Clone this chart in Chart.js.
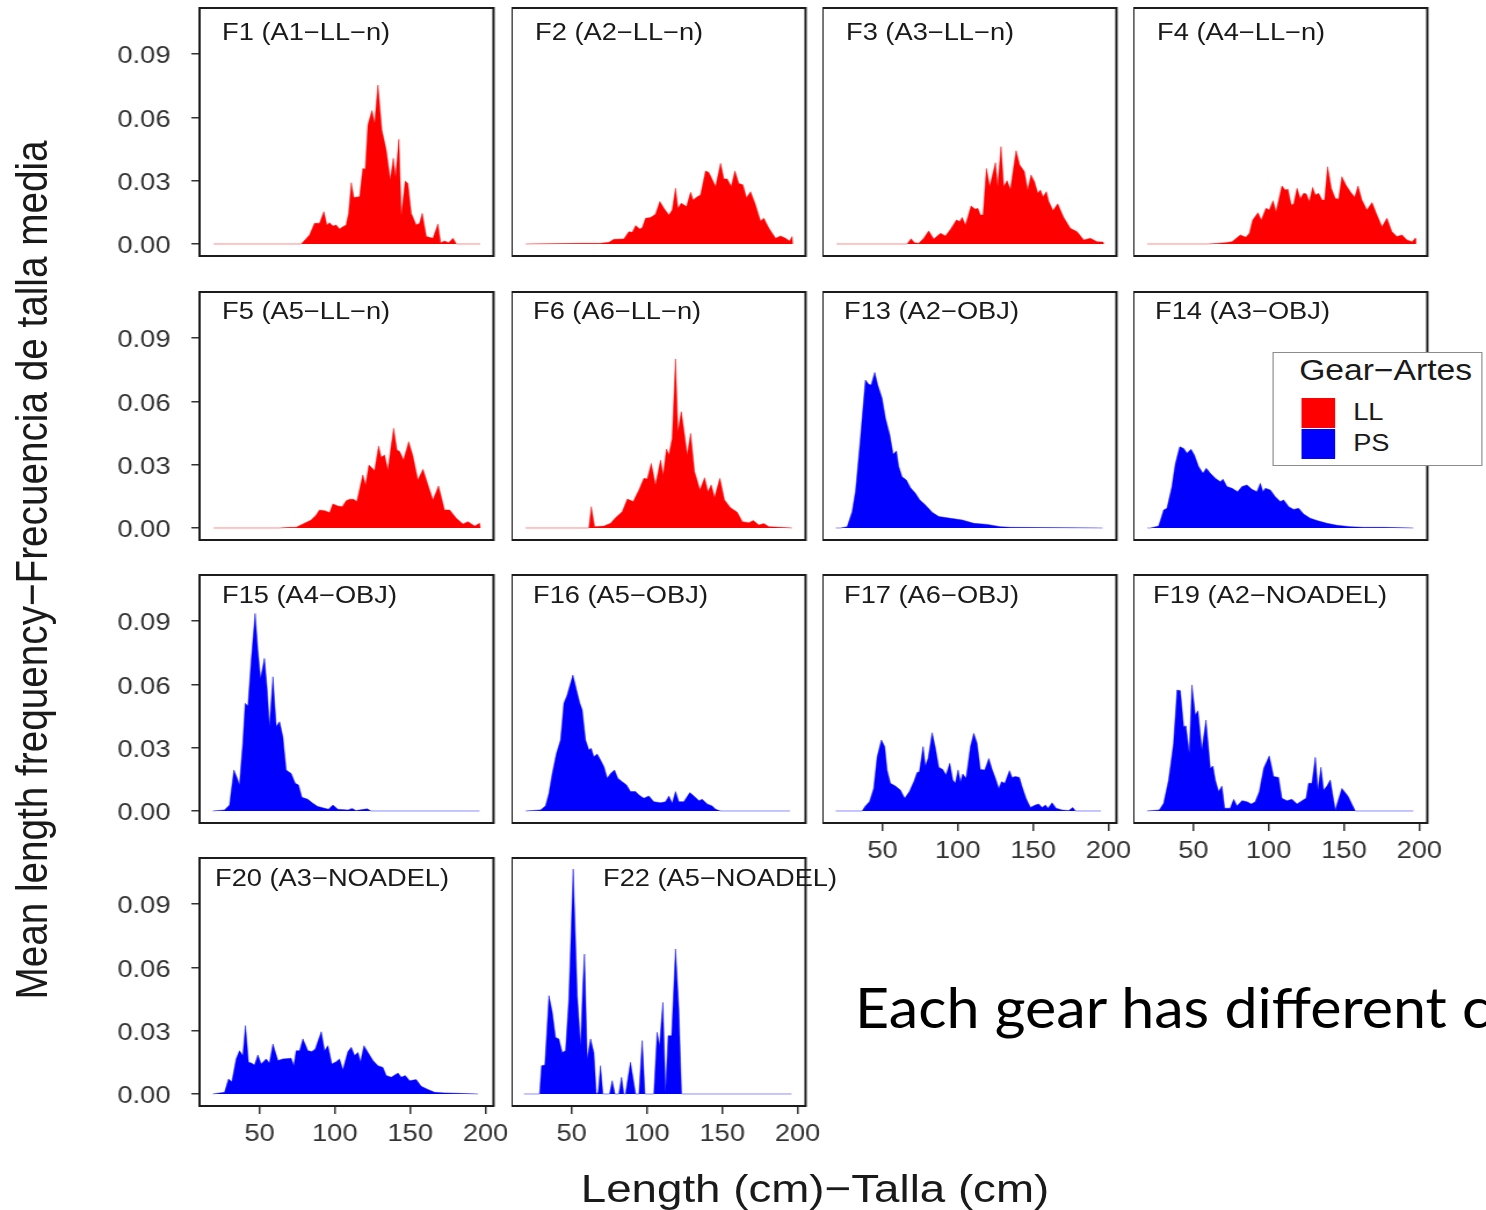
<!DOCTYPE html>
<html><head><meta charset="utf-8">
<script src="https://cdn.jsdelivr.net/npm/chart.js@4/dist/chart.umd.min.js"></script>
<style>
html,body{margin:0;padding:0;background:#fff;overflow:hidden;width:1486px;height:1210px;}
#fig{position:absolute;left:0;top:0;width:1281px;height:1210px;transform-origin:0 0;font-family:"Liberation Sans",Arial,sans-serif;}
.t{position:absolute;white-space:nowrap;line-height:1;color:#1a1a1a;}
canvas{position:absolute;}
#legend{position:absolute;background:#fff;border:1px solid #8c8c8c;box-sizing:border-box;}
#note{position:absolute;left:855px;white-space:nowrap;line-height:1;font-family:Lato,"Open Sans",sans-serif;font-size:56px;color:#000;transform-origin:0 0;}
</style></head>
<body>
<div id="fig"></div>
<div id="note"><span id="noteHead">Each gear has different </span>c</div>
<script>
// ---------------- data (length cm, mean frequency) ----------------
const f1 = [[19.5,0],[77.7,0],[83.2,0.0043],[86.5,0.0098],[89.8,0.0098],[92.7,0.0153],[94.7,0.009],[96.5,0.0101],[98.7,0.0085],[100.9,0.009],[103.1,0.0071],[105.3,0.0082],[107.5,0.009],[109.1,0.0145],[110.9,0.029],[112.6,0.022],[116.4,0.0224],[118.6,0.0358],[120.2,0.0354],[121.9,0.0564],[124.6,0.0632],[126.4,0.0572],[128.6,0.0753],[131.2,0.054],[134.1,0.0445],[136.8,0.0303],[138.8,0.0406],[140.3,0.0319],[142.5,0.0496],[144.1,0.0137],[146.7,0.0298],[148.5,0.0287],[150.7,0.0145],[154,0.009],[156.2,0.0098],[158,0.0145],[160.7,0.0035],[165.1,0.0027],[168.4,0.0095],[170.2,0.0006],[172.8,0.0014],[175.5,0.0006],[178.4,0.0027],[180.6,0],[196.5,0]];
const f2 = [[19.5,0],[56,0.0003],[69.2,0.0003],[74.8,0.0008],[78.1,0.0022],[84.7,0.0024],[88,0.0058],[90.3,0.0055],[92.5,0.0087],[95.3,0.0071],[96.9,0.0077],[99.1,0.0122],[102.4,0.0125],[105.7,0.0141],[108.6,0.0201],[111.3,0.0169],[114.6,0.0137],[116.8,0.0161],[119,0.0264],[120.6,0.0169],[122.8,0.0193],[126.3,0.0177],[129,0.0245],[130.7,0.0208],[133.4,0.0224],[135.6,0.0232],[138.9,0.0346],[141.1,0.0339],[145.6,0.0272],[148.9,0.0382],[151.1,0.0308],[153.3,0.0308],[156,0.0272],[158.4,0.0346],[161,0.0287],[163.7,0.028],[166.1,0.0219],[168.8,0.0248],[172.1,0.0185],[175.4,0.0109],[177.6,0.0122],[181,0.0074],[185.4,0.0027],[188.7,0.0038],[192,0.0027],[194.7,0.0014],[196.4,0.0035],[196.8,0]];
const f3 = [[19.5,0],[66.4,0],[69,0.0025],[71.2,0.0006],[74.1,0.0003],[77.4,0.0027],[80.7,0.0062],[84.1,0.0024],[88.5,0.0051],[91.8,0.0038],[95.1,0.0069],[99.1,0.0114],[101.3,0.0106],[102.9,0.0126],[105.1,0.009],[108.8,0.018],[111.7,0.0164],[113.3,0.0169],[115,0.0137],[116.8,0.0137],[119,0.0358],[121.2,0.0272],[125,0.0385],[126.5,0.0272],[128.7,0.0461],[130.5,0.0272],[132.7,0.03],[134.9,0.0259],[138.7,0.0442],[141.1,0.0374],[144.2,0.0343],[146.4,0.0256],[148.6,0.0327],[150.9,0.0295],[153.1,0.024],[154.8,0.0256],[156.6,0.0224],[158.8,0.0248],[160.4,0.0201],[163.2,0.0158],[166.3,0.019],[170.3,0.0126],[174.7,0.0074],[179.2,0.0058],[183.6,0.0019],[188,0.0027],[192.4,0.0011],[196.4,0.0009],[197,0]];
const f4 = [[19.5,0],[60,0],[71.2,0.0006],[75.7,0.0011],[81.2,0.0043],[84.9,0.0032],[87.2,0.0051],[89.4,0.0114],[92.9,0.0148],[95.1,0.0114],[98.2,0.0169],[100.4,0.0161],[102.9,0.0205],[104.9,0.0153],[108.8,0.0275],[111,0.0256],[112.8,0.0259],[115,0.0185],[116.6,0.0189],[118.8,0.0264],[121,0.0216],[123.2,0.024],[125,0.0237],[127,0.0201],[129.2,0.0268],[131,0.0232],[133.2,0.024],[135.4,0.0208],[137.1,0.0208],[139.1,0.0366],[141.6,0.0264],[144.2,0.0216],[146.4,0.0212],[148.6,0.0319],[151.3,0.0279],[154.2,0.0248],[157.1,0.0221],[159.3,0.0275],[161.9,0.0208],[165.2,0.0161],[168.6,0.0196],[171.9,0.0137],[175.2,0.0082],[178.5,0.0122],[181.8,0.0058],[185.1,0.0035],[188.5,0.0043],[191.8,0.0019],[195.1,0.0011],[197.3,0.0027],[197.6,0]];
const f5 = [[19.5,0],[63.3,0],[69.9,0.0003],[74.3,0.0003],[78.8,0.0019],[84.3,0.0038],[87.6,0.0062],[89.8,0.0085],[93.2,0.0082],[96.5,0.0073],[98.7,0.0114],[102,0.0104],[104.9,0.0101],[107.5,0.0129],[109.8,0.0136],[112.4,0.0136],[114.6,0.0125],[116.8,0.0196],[118.6,0.0251],[120.4,0.0204],[122.6,0.0298],[126.4,0.0272],[129,0.0388],[130.8,0.0335],[133,0.0346],[135.2,0.0275],[139,0.0472],[141.2,0.0369],[143,0.0362],[145.6,0.0322],[149,0.0409],[151.8,0.0341],[155.1,0.0227],[158.5,0.0278],[161.8,0.0204],[165.1,0.0133],[168.8,0.0199],[172.8,0.0085],[176.2,0.0085],[180.6,0.0046],[185,0.0019],[188.3,0.003],[192.8,0.0009],[196.1,0.0022],[196.5,0]];
const f6 = [[19.5,0],[61.5,0],[63.1,0.0101],[65.3,0.0006],[71.5,0.0009],[75.9,0.0022],[79.2,0.0049],[83.6,0.0077],[87,0.0137],[90.9,0.0125],[94.7,0.018],[98,0.0235],[100.2,0.0232],[102.9,0.0306],[105.7,0.0204],[109.1,0.0322],[110.8,0.0251],[113,0.0374],[114.6,0.0346],[116.8,0.0425],[119,0.0801],[120.6,0.0456],[122.8,0.0551],[125,0.0441],[126.8,0.0346],[129,0.0448],[131.6,0.0267],[135.2,0.018],[138.3,0.0238],[140.5,0.0172],[142.7,0.0204],[144.9,0.0144],[148.4,0.0235],[151.5,0.0133],[155.5,0.0096],[160,0.0074],[163.3,0.003],[167.7,0.0025],[170.6,0.0035],[174.3,0.0014],[177.6,0.0021],[181,0.0006],[188.7,0.0003],[196.4,0]];
const f13 = [[19,0],[22.1,0],[26.6,0.0006],[29.9,0.0077],[32.1,0.0172],[35,0.0393],[38.7,0.0701],[40.9,0.0681],[42.5,0.0677],[44.9,0.0737],[46.9,0.0677],[49.8,0.0614],[52,0.052],[54.9,0.0441],[57.1,0.0349],[59.3,0.0365],[60.8,0.0291],[63,0.0243],[65.9,0.0227],[68.6,0.0191],[71.9,0.0164],[74.8,0.0133],[78.5,0.0109],[83,0.0074],[87.4,0.0054],[95.1,0.0046],[102.9,0.0038],[110.6,0.0022],[119.5,0.0017],[128.3,0.0006],[135,0.0003],[196,0]];
const f14 = [[19.5,0],[21.5,0],[27,0.0009],[30.3,0.0085],[32.5,0.0093],[35.8,0.0196],[38.1,0.0306],[41,0.0385],[43.6,0.0377],[45.8,0.0354],[48.5,0.0373],[50.7,0.0346],[53.5,0.0291],[56.4,0.0259],[58.6,0.0283],[61.3,0.0259],[64.6,0.0235],[67.9,0.0219],[69.7,0.0231],[72.3,0.0196],[75.7,0.0188],[79.4,0.0172],[82.3,0.0196],[85.6,0.0204],[88.9,0.0183],[92.2,0.0172],[94.5,0.0212],[96.2,0.0172],[97.8,0.0188],[101.1,0.018],[104.4,0.0148],[107.7,0.0125],[110,0.0133],[113.3,0.0101],[116.6,0.0088],[119.9,0.0093],[123.2,0.0066],[127.6,0.0046],[132.1,0.0035],[138.7,0.0022],[145.3,0.0013],[154.2,0.0006],[163,0.0003],[176.3,0.0003],[196,0]];
const f15 = [[19,0],[26.8,0.0005],[30.1,0.0028],[33,0.0194],[35.2,0.0155],[36.7,0.0123],[38.9,0.0321],[40.5,0.051],[42.3,0.0497],[44.5,0.0715],[47.1,0.0936],[48.9,0.0763],[50.7,0.0628],[53.3,0.0723],[55.1,0.0573],[56.6,0.04],[58.9,0.0636],[61.1,0.04],[63.3,0.0423],[65.5,0.0352],[67.7,0.0194],[71,0.0178],[73.7,0.0131],[75.9,0.0123],[78.1,0.0065],[82.1,0.0055],[85.4,0.0036],[88.7,0.0021],[93.2,0.0013],[95.8,0.0008],[98.7,0.0028],[102,0.0008],[108.7,0.0005],[111.5,0.0012],[114,0.0002],[121.5,0.001],[124,0],[196,0]];
const f16 = [[19.5,0],[29.4,0.0005],[32.7,0.0024],[35,0.0084],[37.2,0.0178],[40,0.0273],[42.7,0.0336],[44.9,0.051],[47.1,0.055],[50.9,0.0644],[53.3,0.0573],[55.5,0.051],[57.1,0.0478],[59.3,0.0336],[61.5,0.0289],[63,0.0297],[64.8,0.0257],[67,0.027],[69.2,0.0242],[71.5,0.021],[73.7,0.0155],[75.9,0.0178],[78.5,0.0194],[80.7,0.0155],[83.6,0.0139],[86.5,0.0123],[89.1,0.0092],[92.5,0.0092],[94.7,0.0076],[98,0.006],[101.3,0.0071],[104.6,0.0044],[109.1,0.0039],[112.4,0.0044],[114.6,0.0071],[116.8,0.0036],[119,0.0092],[121.2,0.0044],[124.5,0.0044],[128.5,0.0087],[131.2,0.0071],[134.5,0.0049],[136.7,0.0055],[140,0.0033],[143.3,0.0024],[145.6,0.0008],[148.9,0],[195,0]];
const f17 = [[19,0],[36.5,0],[38.7,0.0024],[41.4,0.0044],[44.2,0.0107],[46.5,0.0257],[49.3,0.0336],[51.5,0.0305],[53.1,0.0194],[55.3,0.0131],[58.6,0.0118],[61.9,0.0099],[64.8,0.006],[67.9,0.0092],[70.8,0.0139],[73,0.0182],[74.5,0.0186],[77,0.0305],[78.5,0.0213],[80.3,0.0249],[83,0.0371],[85.2,0.0297],[87.4,0.0207],[90,0.0197],[92.2,0.0171],[94.7,0.0226],[96.7,0.0147],[98.4,0.0131],[100.2,0.0194],[101.8,0.0139],[103.3,0.0175],[105.5,0.0155],[108.4,0.0305],[110.6,0.0368],[112.8,0.0321],[115,0.0197],[117.9,0.0194],[120.6,0.0249],[122.8,0.0197],[125,0.0155],[127.2,0.0107],[129,0.0139],[131.2,0.0131],[134.3,0.0191],[136,0.0159],[138.3,0.0163],[140.9,0.0159],[142.7,0.0115],[145.3,0.006],[148.2,0.0017],[151.5,0.0028],[153.7,0.0033],[156,0.0017],[158.2,0.0028],[159.9,0.0013],[162.6,0.0039],[165.2,0.0013],[169.2,0.0005],[173.6,0.0002],[176.3,0.0016],[178.1,0],[195,0]];
const f19 = [[19.2,0],[27.4,0.0005],[30.3,0.0036],[33.6,0.0147],[36.9,0.0321],[39.2,0.0573],[41.4,0.057],[43.6,0.0399],[45.1,0.0403],[47.3,0.0273],[49.1,0.0597],[51.3,0.0455],[53.1,0.0475],[55.7,0.0289],[58.4,0.0431],[61.3,0.0202],[63,0.0213],[64.6,0.0147],[66.8,0.0092],[69,0.0118],[70.8,0.0013],[74.5,0.0013],[76.8,0.0055],[79,0.0024],[82.3,0.0049],[85.6,0.0044],[88.5,0.0033],[91.1,0.0044],[93.8,0.0092],[96.7,0.0202],[100.4,0.0261],[103.3,0.0163],[106.6,0.0159],[108.8,0.006],[112.1,0.0049],[115.5,0.0055],[118.8,0.0033],[122.1,0.0049],[124.8,0.006],[126.5,0.0131],[128.7,0.0131],[131,0.0254],[132.7,0.0099],[134.7,0.0207],[136.5,0.0099],[138.7,0.0118],[140.9,0.0147],[144.2,0.0005],[148.6,0.0107],[152.6,0.0071],[157.5,0],[196,0]];
const f20 = [[19,0],[26.8,0.0008],[29.4,0.0071],[31.6,0.0058],[34.5,0.0166],[36.7,0.0205],[38.9,0.0182],[40.7,0.0324],[42.7,0.015],[44.5,0.0147],[46.7,0.0137],[48.9,0.0185],[51.1,0.0142],[54.4,0.0166],[56.6,0.0147],[58.9,0.0237],[62.2,0.0158],[65.5,0.0166],[71,0.0169],[72.8,0.0134],[74.3,0.0205],[76.6,0.0205],[78.8,0.0261],[82.1,0.0205],[84.8,0.0201],[87,0.0213],[91,0.0295],[93.2,0.0205],[95.4,0.0229],[98,0.0142],[100.9,0.0153],[103.1,0.0166],[105.3,0.0115],[108.7,0.0201],[110.9,0.0221],[113.1,0.0182],[115.3,0.0197],[117.1,0.0153],[119.3,0.0229],[122,0.0197],[125.3,0.0158],[128.6,0.0134],[131.9,0.0126],[134.1,0.0087],[137.4,0.0079],[141.9,0.0099],[144.1,0.0079],[146.7,0.0087],[149.6,0.0063],[154,0.0068],[157.3,0.0036],[161.8,0.0021],[166.2,0.0008],[172.8,0.0005],[181.7,0.0003],[195,0]];
const f22 = [[18.4,0],[28.8,0],[30.1,0.0134],[32.3,0.0137],[35,0.0466],[37.2,0.0387],[39.4,0.0268],[41.6,0.0261],[43.8,0.0197],[46,0.0205],[48.2,0.045],[51.1,0.1066],[53.8,0.0466],[56,0.0229],[57.5,0.0513],[58.6,0.0663],[60.4,0.0166],[62.6,0.0261],[64.8,0.0197],[66.4,0],[67.7,0.0008],[69.2,0.0134],[70.8,0],[75.2,0],[77,0.0063],[78.8,0],[81.4,0],[83.2,0.0079],[84.7,0],[85.8,0],[89.1,0.015],[92.5,0],[94.7,0],[96.9,0.0253],[98.7,0],[104.6,0],[106.8,0.0292],[108.4,0.0229],[110.6,0.0434],[112.4,0.0008],[114.1,0.0276],[116.4,0.0276],[119,0.0687],[121.2,0.0403],[123,0],[196,0]];

const panelTitles = ['F1 (A1\u2212LL\u2212n)','F2 (A2\u2212LL\u2212n)','F3 (A3\u2212LL\u2212n)','F4 (A4\u2212LL\u2212n)',
  'F5 (A5\u2212LL\u2212n)','F6 (A6\u2212LL\u2212n)','F13 (A2\u2212OBJ)','F14 (A3\u2212OBJ)',
  'F15 (A4\u2212OBJ)','F16 (A5\u2212OBJ)','F17 (A6\u2212OBJ)','F19 (A2\u2212NOADEL)',
  'F20 (A3\u2212NOADEL)','F22 (A5\u2212NOADEL)'];
const panelGear = ['LL','LL','LL','LL','LL','LL','PS','PS','PS','PS','PS','PS','PS','PS'];
const panelSeries = [f1,f2,f3,f4,f5,f6,f13,f14,f15,f16,f17,f19,f20,f22];
const gearNames = ['LL','PS'];
const legendTitle = 'Gear\u2212Artes';
const xTicks = [50,100,150,200];
const yTicks = [0,0.03,0.06,0.09];
const xAxisTitle = 'Length (cm)\u2212Talla (cm)';
const yAxisTitle = 'Mean length frequency\u2212Frecuencia de talla media';

// ---------------- layout & style ----------------
const K = 1.16;                       // horizontal stretch of the figure
const COL_X = [200,511,822,1133];
const ROW_Y = [8,292,575,858];
const TITLE_Y = [33,312,596,879];     // vertical centre of panel titles
const BOX_W = 294, BOX_H = 248;
const X_MIN = 10.2, X_MAX = 205.3, Y_MIN = -0.0057, Y_MAX = 0.1118;
const gearColor = {LL:'#ff0000', PS:'#0000ff'};
const gearEdge = {LL:'rgba(255,0,0,0.45)', PS:'rgba(0,0,255,0.45)'};
const panelPos = [
 {c:0,r:0,dx:22},{c:1,r:0,dx:24},{c:2,r:0,dx:24},{c:3,r:0,dx:24},
 {c:0,r:1,dx:22},{c:1,r:1,dx:22},{c:2,r:1,dx:22},{c:3,r:1,dx:22},
 {c:0,r:2,dx:22},{c:1,r:2,dx:22},{c:2,r:2,dx:22,bx:true},{c:3,r:2,dx:20,bx:true},
 {c:0,r:3,dx:15,bx:true},{c:1,r:3,dx:92,bx:true}
];
const TICK_FONT = {family:'Liberation Sans', size:23.5};
const TICK_COLOR = '#333333';

const fig = document.getElementById('fig');
fig.style.transform = 'scaleX(' + K + ')';

function addText(txt, left, top, size, extra) {
  const d = document.createElement('div');
  d.className = 't';
  d.textContent = txt;
  d.style.left = left + 'px';
  d.style.top = top + 'px';
  d.style.fontSize = size + 'px';
  if (extra) Object.assign(d.style, extra);
  fig.appendChild(d);
  return d;
}

const framePlugin = {
  id: 'frame',
  afterDatasetsDraw(chart) {
    const {ctx, chartArea: a} = chart;
    ctx.save();
    ctx.strokeStyle = '#1c1c1c';
    ctx.lineWidth = 2;
    ctx.strokeRect(a.left, a.top, a.right - a.left, a.bottom - a.top);
    ctx.restore();
  }
};

const PAD_T = 40, PAD_R = 30, PAD_B0 = 40, AX_H = 45, AX_W = 110;

panelSeries.forEach((series, i) => {
  const pos = panelPos[i];
  const showY = pos.c === 0;
  const showX = !!pos.bx;
  const boxL = COL_X[pos.c] / K, boxT = ROW_Y[pos.r], boxW = BOX_W / K;
  const padL = showY ? AX_W : 0;
  const axH = showX ? AX_H : 0;
  const padB = showX ? 0 : PAD_B0;
  const cv = document.createElement('canvas');
  const cw = Math.ceil(padL + boxW + PAD_R);
  const ch = PAD_T + BOX_H + axH + padB;
  cv.width = cw; cv.height = ch;
  cv.style.left = (boxL - padL) + 'px';
  cv.style.top = (boxT - PAD_T) + 'px';
  cv.style.width = cw + 'px'; cv.style.height = ch + 'px';
  fig.appendChild(cv);
  const gear = panelGear[i];
  new Chart(cv, {
    type: 'line',
    data: {datasets: [{
      data: series.map(([x, y]) => ({x, y})),
      borderColor: gearEdge[gear], borderWidth: 1,
      backgroundColor: gearColor[gear], fill: 'origin',
      pointRadius: 0, tension: 0
    }]},
    options: {
      responsive: false, animation: false, devicePixelRatio: 1, events: [],
      layout: {padding: {left: 0, top: PAD_T, right: cw - padL - boxW, bottom: padB}},
      plugins: {legend: {display: false}, tooltip: {enabled: false}},
      scales: {
        x: {
          type: 'linear', min: X_MIN, max: X_MAX, display: showX,
          afterBuildTicks: s => { s.ticks = xTicks.map(v => ({value: v})); },
          afterFit: s => { s.height = axH; },
          ticks: {font: TICK_FONT, color: TICK_COLOR, padding: 6, maxRotation: 0, autoSkip: false},
          grid: {drawOnChartArea: false, drawTicks: true, tickLength: 8, color: TICK_COLOR, lineWidth: 1.5},
          border: {display: false}
        },
        y: {
          type: 'linear', min: Y_MIN, max: Y_MAX, display: showY,
          afterBuildTicks: s => { s.ticks = yTicks.map(v => ({value: v})); },
          afterFit: s => { s.width = padL; },
          ticks: {font: TICK_FONT, color: TICK_COLOR, padding: 18, labelOffset: 3, callback: v => Number(v).toFixed(2)},
          grid: {drawOnChartArea: false, drawTicks: true, tickLength: 7, color: TICK_COLOR, lineWidth: 1.5},
          border: {display: false}
        }
      }
    },
    plugins: [framePlugin]
  });
  addText(panelTitles[i], (COL_X[pos.c] + pos.dx) / K, TITLE_Y[pos.r] - 0.49 * 23.5, 23.5);
});

// axis titles
addText(yAxisTitle, 33 / K, 570, 38.7, {transform: 'translate(-50%,-50%) rotate(-90deg)'});
addText(xAxisTitle, 815 / K, 1188 - 0.49 * 39.4, 39.4, {transform: 'translateX(-50%)'});

// legend
const lg = document.createElement('div');
lg.id = 'legend';
lg.style.left = (1272 / K) + 'px'; lg.style.top = '352px';
lg.style.width = (211 / K) + 'px'; lg.style.height = '114px';
fig.appendChild(lg);
const lgT = document.createElement('div');
lgT.className = 't'; lgT.textContent = legendTitle;
Object.assign(lgT.style, {left: (26 / K) + 'px', top: (17 - 0.49 * 29) + 'px', fontSize: '29px'});
lg.appendChild(lgT);
gearNames.forEach((g, j) => {
  const sw = document.createElement('div');
  Object.assign(sw.style, {position: 'absolute', left: (28 / K) + 'px', top: (45 + j * 31) + 'px',
    width: (34 / K) + 'px', height: '30px', background: gearColor[g]});
  lg.appendChild(sw);
  const lt = document.createElement('div');
  lt.className = 't'; lt.textContent = g;
  Object.assign(lt.style, {left: (80 / K) + 'px', top: (60 + j * 31 - 0.49 * 23.5) + 'px', fontSize: '23.5px'});
  lg.appendChild(lt);
});

// slide annotation
const note = document.getElementById('note');
note.style.top = (1009 - 0.529 * 56) + 'px';
const hw = document.getElementById('noteHead').getBoundingClientRect().width;
note.style.transform = 'scaleX(' + (607 / hw) + ')';
</script>
</body></html>
